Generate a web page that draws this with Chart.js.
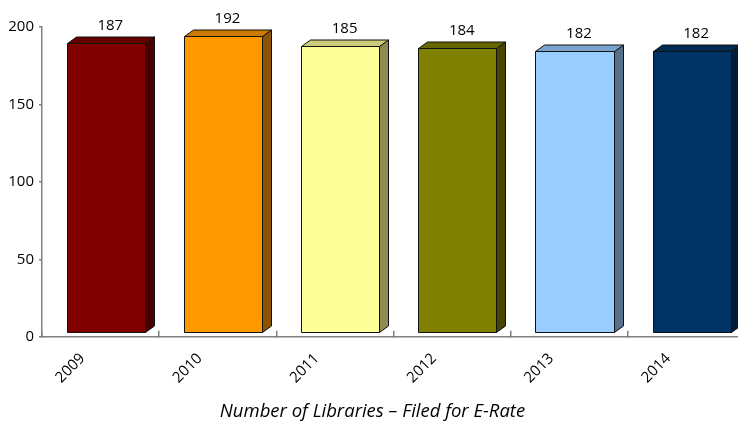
<!DOCTYPE html>
<html>
<head>
<meta charset="utf-8">
<title>Number of Libraries – Filed for E-Rate</title>
<script src="https://cdn.jsdelivr.net/npm/chart.js@4.4.0/dist/chart.umd.min.js"></script>
<style>
  html, body { margin: 0; padding: 0; background: #fff; width: 738px; height: 423px; overflow: hidden; }
  #chart { display: block; }
</style>
</head>
<body>
<canvas id="chart" width="745" height="423"></canvas>
<script>
const years = ['2009', '2010', '2011', '2012', '2013', '2014'];
const libraries = [187, 192, 185, 184, 182, 182];
const barColors = ['#800000', '#FF9900', '#FFFF99', '#808000', '#99CCFF', '#003366'];
const yTicks = [0, 50, 100, 150, 200];

// fake 3D: front face sits on the middle of the floor, depth goes up-right
const SHIFT_X = 5.2, SHIFT_Y = 3.8;
const DEPTH_X = 9, DEPTH_Y = 6.5;

function shade(hex, f) {
  const n = parseInt(hex.slice(1), 16);
  const r = Math.round(((n >> 16) & 255) * f);
  const g = Math.round(((n >> 8) & 255) * f);
  const b = Math.round((n & 255) * f);
  return `rgb(${r},${g},${b})`;
}

function poly(ctx, pts, fill) {
  ctx.beginPath();
  ctx.moveTo(pts[0][0], pts[0][1]);
  for (let i = 1; i < pts.length; i++) ctx.lineTo(pts[i][0], pts[i][1]);
  ctx.closePath();
  ctx.fillStyle = fill;
  ctx.fill();
  ctx.stroke();
}

const bars3d = {
  id: 'bars3d',
  beforeDatasetDraw(chart, args) {
    const ctx = chart.ctx;
    const colors = chart.data.datasets[args.index].backgroundColor;
    ctx.save();
    ctx.lineWidth = 1;
    ctx.strokeStyle = '#111';
    ctx.lineJoin = 'round';
    args.meta.data.forEach((bar, i) => {
      const { x, y, base, width } = bar.getProps(['x', 'y', 'base', 'width'], true);
      const l = Math.round(x - width / 2 + SHIFT_X) + 0.5;
      const r = Math.round(x + width / 2 + SHIFT_X) + 0.5;
      const t = Math.round(y - SHIFT_Y) + 0.5;
      const b = Math.round(base - SHIFT_Y) + 0.5;
      poly(ctx, [[r, t], [r + DEPTH_X, t - DEPTH_Y], [r + DEPTH_X, b - DEPTH_Y], [r, b]], shade(colors[i], 0.55));
      poly(ctx, [[l, t], [l + DEPTH_X, t - DEPTH_Y], [r + DEPTH_X, t - DEPTH_Y], [r, t]], shade(colors[i], 0.8));
      poly(ctx, [[l, t], [r, t], [r, b], [l, b]], colors[i]);
    });
    ctx.restore();
    return false;
  },
  afterDatasetsDraw(chart) {
    const ctx = chart.ctx;
    const meta = chart.getDatasetMeta(0);
    const values = chart.data.datasets[0].data;
    ctx.save();
    ctx.font = '15px "Open Sans"';
    ctx.fillStyle = '#000';
    ctx.textAlign = 'center';
    ctx.textBaseline = 'alphabetic';
    meta.data.forEach((bar, i) => {
      ctx.fillText(values[i], bar.x + SHIFT_X + DEPTH_X / 2, bar.y - SHIFT_Y - DEPTH_Y - 6.5);
    });
    ctx.restore();
  }
};

const ctx = document.getElementById('chart').getContext('2d');
new Chart(ctx, {
  type: 'bar',
  data: {
    labels: years,
    datasets: [{
      data: libraries,
      backgroundColor: barColors,
      barPercentage: 1,
      categoryPercentage: 0.667
    }]
  },
  options: {
    responsive: false,
    animation: false,
    layout: { padding: { top: 27, left: 0, right: 0, bottom: 0 } },
    plugins: {
      legend: { display: false },
      tooltip: { enabled: false },
      title: {
        display: true,
        position: 'bottom',
        text: 'Number of Libraries – Filed for E-Rate',
        color: '#000',
        font: { family: '"Open Sans"', size: 18.5, style: 'italic', weight: 'normal' },
        padding: { top: 0, bottom: 0 }
      }
    },
    scales: {
      x: {
        grid: { drawOnChartArea: false, tickLength: -6, color: '#808080', lineWidth: 1.5 },
        border: { color: '#808080', width: 1.5 },
        ticks: {
          autoSkip: false,
          minRotation: 45,
          maxRotation: 45,
          labelOffset: -18,
          padding: 19,
          color: '#000',
          font: { family: '"Open Sans"', size: 15 }
        },
        afterFit(scale) { scale.height = 64; }
      },
      y: {
        min: 0,
        max: 200,
        afterBuildTicks(scale) { scale.ticks = yTicks.map(v => ({ value: v })); },
        grid: { drawOnChartArea: false, tickLength: 3, color: '#808080', lineWidth: 1.5 },
        border: { color: '#808080', width: 1.5 },
        ticks: {
          padding: 5,
          color: '#000',
          font: { family: '"Open Sans"', size: 15 }
        },
        afterFit(scale) { scale.width = 42; }
      }
    }
  },
  plugins: [bars3d]
});
</script>
</body>
</html>
